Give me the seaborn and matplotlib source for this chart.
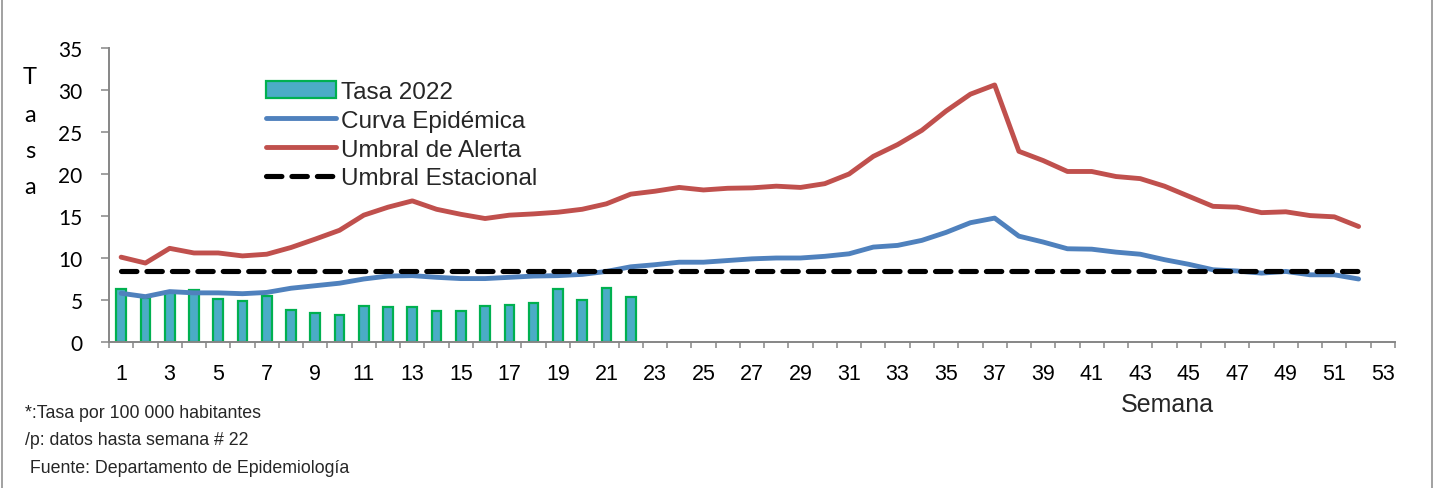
import matplotlib
matplotlib.use("Agg")
import matplotlib.pyplot as plt
from matplotlib import font_manager
from matplotlib.lines import Line2D
from matplotlib.patches import Patch
import seaborn as sns
import pandas as pd

# ---------------- data ----------------
semanas = list(range(1, 53))
semanas_2022 = list(range(1, 23))

tasa_2022 = [6.3, 5.2, 6.0, 6.2, 5.1, 4.9, 5.5, 3.85, 3.4, 3.2, 4.3, 4.15,
             4.15, 3.65, 3.75, 4.3, 4.45, 4.7, 6.3, 5.0, 6.45, 5.3]

curva_epidemica = [5.8, 5.4, 6.0, 5.85, 5.85, 5.75, 5.9, 6.4, 6.7, 7.0,
                   7.5, 7.85, 7.9, 7.7, 7.55, 7.55, 7.7, 7.85, 7.9, 8.05,
                   8.4, 8.95, 9.2, 9.5, 9.5, 9.7, 9.9, 10.0, 10.0, 10.2,
                   10.5, 11.3, 11.5, 12.1, 13.05, 14.2, 14.75, 12.6, 11.9, 11.1,
                   11.05, 10.7, 10.45, 9.8, 9.25, 8.6, 8.45, 8.2, 8.4, 8.0,
                   8.0, 7.5]

umbral_alerta = [10.1, 9.4, 11.15, 10.6, 10.6, 10.25, 10.45, 11.25, 12.25, 13.3,
                 15.1, 16.05, 16.8, 15.8, 15.2, 14.7, 15.1, 15.25, 15.45, 15.8,
                 16.45, 17.6, 17.95, 18.4, 18.1, 18.3, 18.35, 18.55, 18.4, 18.85,
                 20.0, 22.1, 23.5, 25.2, 27.5, 29.5, 30.6, 22.7, 21.6, 20.3,
                 20.3, 19.7, 19.45, 18.55, 17.35, 16.15, 16.05, 15.4, 15.5, 15.05,
                 14.9, 13.75]

umbral_estacional = [8.45, 8.45, 8.45, 8.45, 8.45, 8.45, 8.45, 8.45, 8.45, 8.45,
                     8.45, 8.45, 8.45, 8.45, 8.45, 8.45, 8.45, 8.45, 8.45, 8.45,
                     8.45, 8.45, 8.45, 8.45, 8.45, 8.45, 8.45, 8.45, 8.45, 8.45,
                     8.45, 8.45, 8.45, 8.45, 8.45, 8.45, 8.45, 8.45, 8.45, 8.45,
                     8.45, 8.45, 8.45, 8.45, 8.45, 8.45, 8.45, 8.45, 8.45, 8.45,
                     8.45, 8.45]

xtick_labels = [str(w) for w in range(1, 54, 2)]
ytick_values = [0, 5, 10, 15, 20, 25, 30, 35]

serie_labels = ["Tasa 2022", "Curva Epidémica", "Umbral de Alerta", "Umbral Estacional"]
notas = ["*:Tasa por 100 000 habitantes",
         "/p: datos hasta semana # 22",
         " Fuente: Departamento de Epidemiología"]

# ---------------- style ----------------
sns.set_theme(style="white")
plt.rcParams["font.family"] = ["Liberation Sans", "DejaVu Sans"]


def has_font(name):
    try:
        font_manager.findfont(font_manager.FontProperties(family=name),
                              fallback_to_default=False)
        return True
    except Exception:
        return False


NARROW = "Liberation Sans Narrow" if has_font("Liberation Sans Narrow") else None

C_BAR = "#4BACC6"
C_BAR_EDGE = "#00B050"
C_BLUE = "#4F81BD"
C_RED = "#C0504D"
C_AXIS = "#868686"
LW = 3.5

W, H = 1435, 489
fig = plt.figure(figsize=(W / 100, H / 100), dpi=100)
ax = fig.add_axes([109 / W, 1 - 343 / H, (1395 - 109) / W, (343 - 49) / H])

df_bar = pd.DataFrame({"semana": semanas_2022, "tasa": tasa_2022})
df_lin = pd.DataFrame({"semana": semanas, "curva": curva_epidemica,
                       "alerta": umbral_alerta, "estacional": umbral_estacional})

sns.barplot(data=df_bar, x="semana", y="tasa", native_scale=True, width=0.4,
            color=C_BAR, saturation=1, edgecolor=C_BAR_EDGE, linewidth=1.6,
            ax=ax, zorder=2)
sns.lineplot(data=df_lin, x="semana", y="curva", color=C_BLUE, linewidth=LW,
             ax=ax, zorder=3)
sns.lineplot(data=df_lin, x="semana", y="alerta", color=C_RED, linewidth=LW,
             ax=ax, zorder=3)
sns.lineplot(data=df_lin, x="semana", y="estacional", color="black", linewidth=3.7,
             ax=ax, zorder=4)
est = ax.lines[-1]
est.set_linestyle((0, (3.0, 1.95)))
est.set_dash_capstyle("round")
for ln in ax.lines[:-1]:
    ln.set_solid_capstyle("round")
    ln.set_solid_joinstyle("round")

ax.set_xlim(0.5, 53.5)
ax.set_ylim(0, 35)
ax.set_xlabel("")
ax.set_ylabel("")

ax.set_xticks(list(range(1, 54, 2)))
ax.set_xticklabels(xtick_labels)
ax.set_xticks([x + 0.5 for x in range(0, 54)], minor=True)
ax.tick_params(axis="x", which="major", length=0, pad=15, labelsize=15.5,
               labelcolor="black")
ax.tick_params(axis="x", which="minor", length=4.5, width=1.1, color=C_AXIS,
               direction="out", bottom=True)

ax.set_yticks(ytick_values)
ax.set_yticklabels([str(v) for v in ytick_values], fontfamily=["Lato", "DejaVu Sans"])
ax.tick_params(axis="y", which="major", length=6, width=1.1, color=C_AXIS,
               direction="out", left=True, pad=13, labelsize=15, labelcolor="black")

for s in ["top", "right"]:
    ax.spines[s].set_visible(False)
for s in ["left", "bottom"]:
    ax.spines[s].set_color(C_AXIS)
    ax.spines[s].set_linewidth(1.4)
ax.grid(False)

# vertical stacked y label "T a s a"
for letter, ypix in zip("Tasa", [77, 115, 151, 188]):
    fig.text(30 / W, 1 - ypix / H, letter, ha="center", va="center",
             fontsize=17, family=["Lato", "DejaVu Sans"], color="black")

# x label
fig.text(1167 / W, 1 - 405 / H, "Semana", ha="center", va="center", fontsize=18)

# legend
handles = [Patch(facecolor=C_BAR, edgecolor=C_BAR_EDGE, linewidth=1.6),
           Line2D([0], [0], color=C_BLUE, linewidth=LW, solid_capstyle="round"),
           Line2D([0], [0], color=C_RED, linewidth=LW, solid_capstyle="round"),
           Line2D([0], [0], color="black", linewidth=3.7,
                  linestyle=(0, (3.0, 1.95)), dash_capstyle="round")]
leg = ax.legend(handles, serie_labels, loc="upper left",
                bbox_to_anchor=(266 / W, 1 - 82 / H), bbox_transform=fig.transFigure,
                frameon=False, fontsize=17.5, handlelength=2.9, handletextpad=0.2,
                labelspacing=0.28, borderaxespad=0, borderpad=0)

# footnotes
for txt, ypix in zip(notas, [414, 441, 469]):
    if NARROW:
        fig.text(25 / W, 1 - ypix / H, txt, ha="left", va="center", fontsize=14.5,
                 family=[NARROW, "DejaVu Sans"])
    else:
        fig.text(25 / W, 1 - ypix / H, txt, ha="left", va="center", fontsize=12.8)

# outer frame lines (left / right)
for xp in [2, 1432]:
    fig.add_artist(Line2D([xp / W, xp / W], [0, 1], transform=fig.transFigure,
                          color="#9A9A9A", linewidth=1.3))

fig.savefig("out.png", dpi=100, facecolor="white")
